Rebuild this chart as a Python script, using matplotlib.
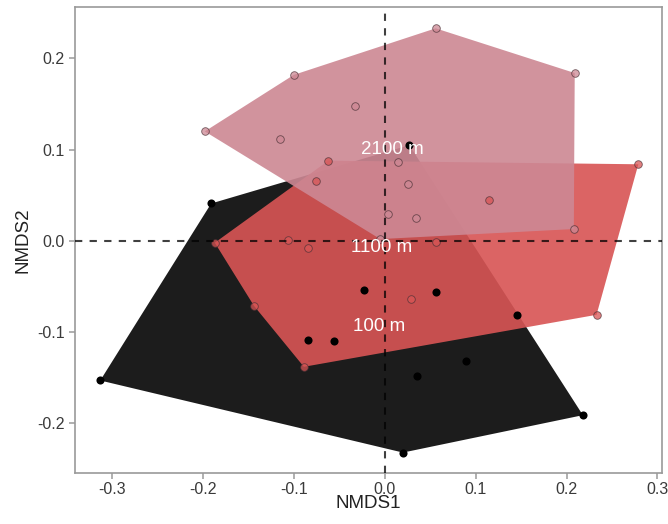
import numpy as np
import matplotlib
matplotlib.use("Agg")
import matplotlib.pyplot as plt

plt.rcParams["font.family"] = ["Liberation Sans", "DejaVu Sans"]

# NMDS scores, one group per elevation
groups = ["100 m", "1100 m", "2100 m"]
colors = ["#1c1c1c", "#d85555", "#cd8894"]

x_100 = [-0.313, -0.191, 0.027, 0.146, 0.218, 0.020, -0.084, -0.056, -0.023, 0.056, 0.035, 0.089]
y_100 = [-0.153, 0.041, 0.105, -0.081, -0.191, -0.232, -0.109, -0.110, -0.054, -0.056, -0.148, -0.132]

x_1100 = [0.279, 0.233, -0.089, -0.144, -0.187, -0.062, -0.076, 0.115, -0.107, -0.084, 0.056, 0.029]
y_1100 = [0.084, -0.081, -0.138, -0.071, -0.002, 0.088, 0.066, 0.045, 0.001, -0.008, -0.001, -0.064]

x_2100 = [-0.198, -0.100, 0.056, 0.209, 0.208, -0.005, -0.033, -0.115, 0.015, 0.026, 0.004, 0.034]
y_2100 = [0.120, 0.182, 0.233, 0.184, 0.013, 0.002, 0.148, 0.112, 0.086, 0.062, 0.030, 0.025]

xs = [x_100, x_1100, x_2100]
ys = [y_100, y_1100, y_2100]


def convex_hull(px, py):
    """Monotone chain convex hull, returns vertex list."""
    pts = sorted(zip(px, py))

    def cross(o, a, b):
        return (a[0] - o[0]) * (b[1] - o[1]) - (a[1] - o[1]) * (b[0] - o[0])

    lower = []
    for p in pts:
        while len(lower) >= 2 and cross(lower[-2], lower[-1], p) <= 0:
            lower.pop()
        lower.append(p)
    upper = []
    for p in reversed(pts):
        while len(upper) >= 2 and cross(upper[-2], upper[-1], p) <= 0:
            upper.pop()
        upper.append(p)
    return np.array(lower[:-1] + upper[:-1])


fig = plt.figure(figsize=(6.68, 5.24), dpi=100)
ax = fig.add_axes([0.112, 0.098, 0.879, 0.888])

# hulls (black one is opaque, the others slightly see-through)
for gx, gy, c in zip(xs, ys, colors):
    hull = convex_hull(gx, gy)
    alpha = 1.0 if c == colors[0] else 0.91
    ax.fill(hull[:, 0], hull[:, 1], color=c, alpha=alpha, lw=0, zorder=1)

# points
for gx, gy, c in zip(xs, ys, colors):
    if c == colors[0]:
        ax.scatter(gx, gy, s=34, color="black", lw=0, zorder=3)
    else:
        ax.scatter(gx, gy, s=30, facecolor=c, edgecolor="#4a3035",
                   linewidths=0.6, alpha=0.75, zorder=3)

# reference lines
ax.axhline(0, color="black", ls=(0, (3.5, 3.5)), lw=1.5, alpha=0.75, zorder=4)
ax.axvline(0, color="black", ls=(0, (3.5, 3.5)), lw=1.5, alpha=0.75, zorder=4)

# group labels at centroids
for gx, gy, name in zip(xs, ys, groups):
    ax.text(np.mean(gx), np.mean(gy), name, color="white", fontsize=13.5,
            ha="center", va="center", zorder=5)

ax.set_xlim(-0.341, 0.305)
ax.set_ylim(-0.254, 0.256)
ax.set_xticks([-0.3, -0.2, -0.1, 0.0, 0.1, 0.2, 0.3])
ax.set_yticks([-0.2, -0.1, 0.0, 0.1, 0.2])
ax.set_xticklabels(["-0.3", "-0.2", "-0.1", "0.0", "0.1", "0.2", "0.3"])
ax.set_yticklabels(["-0.2", "-0.1", "0.0", "0.1", "0.2"])
ax.set_xlabel("NMDS1", fontsize=13.5, color="#222222", labelpad=-1)
ax.set_ylabel("NMDS2", fontsize=13.5, color="#222222", labelpad=4)

for s in ax.spines.values():
    s.set_color("#9a9a9a")
    s.set_linewidth(1.2)
ax.tick_params(colors="#9a9a9a", labelcolor="#3a3a3a", labelsize=11.5,
               length=4, width=1.1)
ax.tick_params(axis="x", pad=2.5)

fig.savefig("out.png", dpi=100, facecolor="white")
